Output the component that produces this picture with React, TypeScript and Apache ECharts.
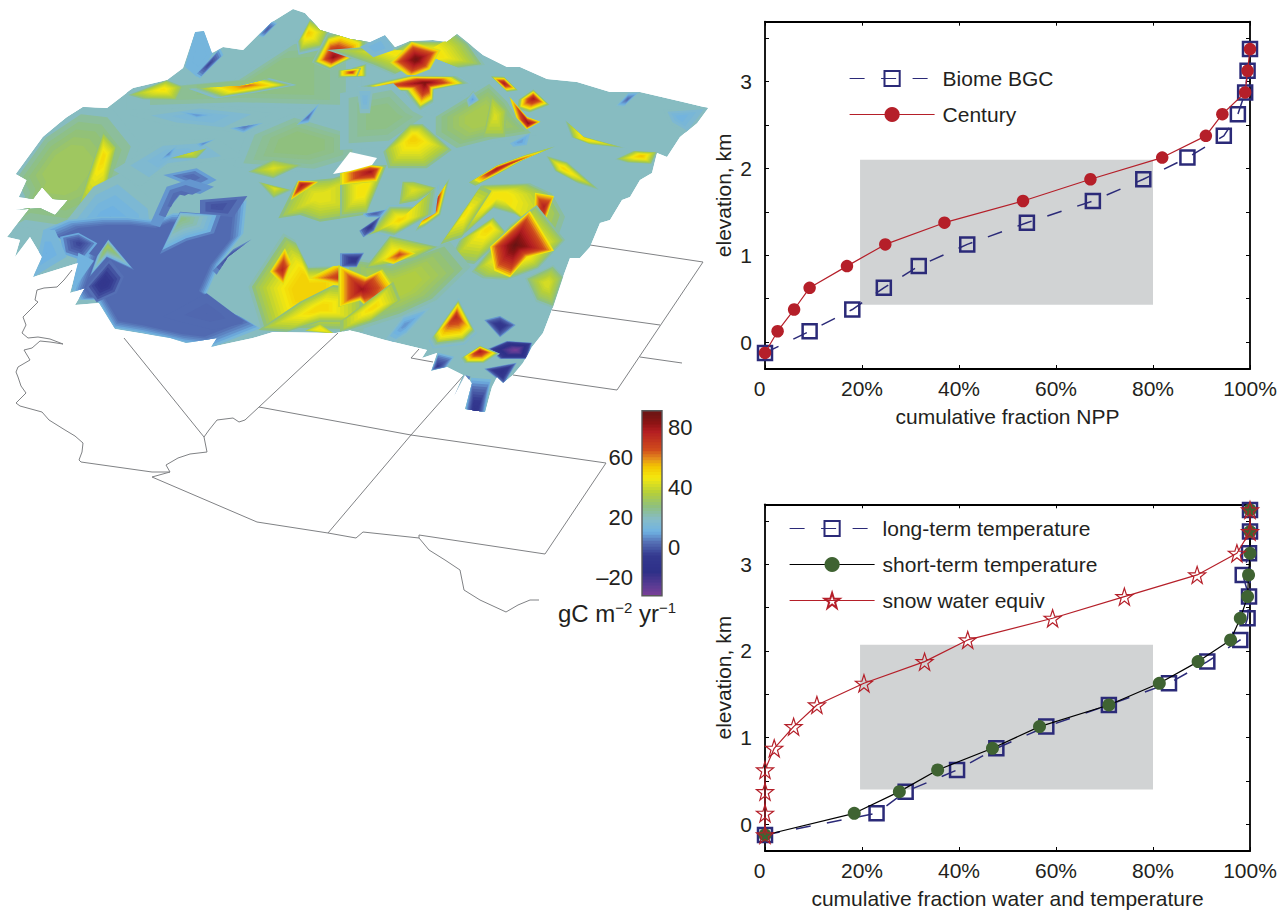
import React, { useEffect, useRef } from "react";
import * as echarts from "echarts";

// ---------- profile charts ----------
const elevations = [-0.125, 0.125, 0.375, 0.625, 0.875, 1.125, 1.375, 1.625, 1.875, 2.125, 2.375, 2.625, 2.875, 3.125, 3.375, 3.625];
const biomeBGC = [0, 9.2, 18, 24.5, 31.7, 41.7, 54, 67.6, 78, 87.1, 94.6, 97.5, 99, 99.5, 100];
const century = [0, 2.6, 6, 9.2, 16.9, 24.8, 37, 53.2, 67.1, 81.9, 90.9, 94.3, 99, 99.5, 100];
const longTermTemp = [0, 23, 29, 39.6, 47.7, 58, 70.9, 83.3, 91.2, 98, 99.5, 99.8, 98.5, 99.8, 100, 100];
const shortTermTemp = [0, 18.4, 27.7, 35.6, 46.9, 56.6, 70.9, 81.3, 89.3, 96, 98, 99.5, 99.7, 100, 100, 100];
const snowWater = [0, 0, 0, 0, 1.9, 5.9, 10.7, 20.4, 32.9, 41.8, 59.3, 74.1, 89.1, 97.3, 100, 100];
const yTicks = [0, 0.5, 1, 1.5, 2, 2.5, 3, 3.5];
const yLabels = [0, 1, 2, 3];
const topBand = [[19.6, 2.1], [80, 0.43]];
const bottomBand = [[19.6, 2.07], [80, 0.4]];

// ---------- colour scale ----------
const colorValues = [-32, -26, -16, -5, 4, 11, 19, 28, 37, 47, 55, 60, 66, 78, 84, 92];
const colorStops = ["#7b3f98", "#5f3c94", "#2e3088", "#34398f", "#5570b5", "#6fb2e2", "#86bcc9", "#8fc07e", "#b4cf3a", "#f4e80f", "#f3c400", "#e48e1c", "#d04c1c", "#b41e22", "#8c1414", "#661414"];
const colorbarLevels = [-32, -30, -28, -26, -24, -22, -20, -18, -16, -14, -12, -10, -8, -6, -4, -2, 0, 2, 4, 6, 8, 10, 12, 14, 16, 18, 20, 22, 24, 26, 28, 30, 32, 34, 36, 38, 40, 42, 44, 46, 48, 50, 52, 54, 56, 58, 60, 62, 64, 66, 68, 70, 72, 74, 76, 78, 80, 82, 84, 86, 88, 90];

// ---------- state lines under the surface ----------
const coastline = [[72, 270], [64, 280], [57, 287], [44, 288], [37, 290], [35, 300], [38, 302], [30, 310], [23, 317], [26, 325], [22, 333], [28, 338], [38, 337], [50, 339], [63, 344], [50, 342], [40, 341], [32, 348], [24, 350], [30, 360], [18, 367], [16, 372], [18, 377], [21, 386], [26, 393], [16, 403], [20, 406], [42, 412], [49, 420], [65, 430], [75, 436], [83, 443], [82, 452], [79, 460], [81, 462], [152, 472], [170, 472], [166, 465], [178, 458], [190, 454], [207, 452], [204, 437], [209, 430], [217, 420], [233, 418], [239, 422], [245, 420], [259, 407], [338, 333]];
const nevadaLine = [[124, 338], [204, 437]];
const borderSouth = [[170, 472], [152, 477], [257, 522], [328, 533], [356, 538], [363, 532], [419, 538], [419, 535], [545, 554], [606, 463], [411, 435], [259, 407]];
const cornersLine = [[464, 375], [411, 435], [328, 533]];
const rioGrande = [[419, 538], [429, 550], [445, 560], [460, 570], [464, 590], [480, 600], [506, 612], [518, 605], [530, 600], [539, 600]];
const coloradoFrame = [[590, 245], [703, 262], [617, 390], [513, 375]];
const kansasLine = [[552, 310], [660, 325]];
const northLine = [[640, 357], [682, 363]];
const stepLine = [[419, 349], [411, 358], [433, 362]];
const gridLines = [coastline, nevadaLine, borderSouth, cornersLine, rioGrande, coloradoFrame, kansasLine, northLine, stepLine];

// ---------- NPP surface: outline and value patches [from, to, polygon, centre x, centre y, stop] ----------
const surfaceOutline = [16, 174, 43, 137, 67, 117, 83, 107, 107, 108, 133, 88, 167, 80, 183, 68, 195, 32, 204, 31, 212, 53, 223, 47, 243, 50, 260, 33, 272, 22, 293, 9, 305, 13, 320, 30, 337, 35, 350, 39, 370, 42, 385, 35, 395, 47, 410, 41, 433, 40, 447, 42, 457, 34, 467, 42, 483, 55, 507, 67, 520, 67, 547, 79, 577, 82, 610, 92, 640, 92, 683, 102, 708, 108, 697, 123, 680, 137, 667, 157, 657, 153, 652, 173, 640, 180, 630, 197, 622, 200, 610, 220, 600, 223, 590, 247, 580, 258, 570, 258, 563, 277, 553, 307, 543, 333, 532, 347, 523, 363, 513, 375, 503, 383, 497, 377, 492, 387, 485, 412, 465, 409, 472, 383, 465, 375, 454, 396, 463, 375, 447, 367, 431, 371, 437, 353, 422, 358, 427, 350, 385, 340, 350, 330, 336, 333, 273, 332, 253, 338, 211, 347, 217, 338, 186, 343, 170, 338, 115, 329, 99, 303, 75, 305, 85, 288, 70, 293, 78, 263, 33, 277, 42, 257, 30, 237, 15, 257, 20, 240, 7, 237, 30, 208, 15, 210, 40, 208, 55, 215, 68, 200, 53, 199, 42, 187, 33, 199, 19, 197, 27, 180];
const surfaceHole = [333, 174, 350, 152, 377, 158, 372, 165, 350, 171];

type Patch = any[];
const westBack: Patch[] = [
  [20, 32, [30, 540, 130, 400, 250, 320, 340, 330, 420, 430, 380, 540, 290, 660, 200, 700, 60, 680, 20, 700, 60, 600], 190, 510, 0.4],
  [20, 27, [380, 270, 700, 240, 900, 110, 1085, 100, 1085, 330, 700, 320, 380, 330], 800, 240, 0.5],
  [20, 28, [880, 340, 1085, 400, 1085, 480, 950, 520, 700, 500, 740, 400], 900, 430, 0.4],
  [20, 15, [340, 510, 480, 425, 650, 415, 730, 470, 500, 500, 420, 560], 510, 465, 0.4],
  [20, 15, [390, 345, 600, 315, 820, 340, 700, 395, 500, 375], 600, 350, 0.4],
  [13, 13, [585, 95, 612, 92, 640, 160, 590, 230, 555, 200], 600, 170],
  [13, -4, [585, 225, 660, 145, 670, 165, 600, 235], 628, 192],
  [26, 50, [385, 285, 500, 240, 550, 260, 530, 300, 430, 298], 490, 268],
  [26, 64, [590, 265, 700, 262, 800, 238, 870, 255, 760, 275, 660, 290], 745, 256],
  [26, 54, [895, 125, 930, 60, 985, 95, 965, 140, 900, 155], 925, 98],
  [30, 84, [945, 185, 985, 110, 1030, 98, 1090, 122, 1090, 155, 990, 205], 1000, 172],
  [30, 64, [1015, 232, 1060, 205, 1095, 195, 1095, 228], 1062, 220],
  [14, 0, [775, 108, 815, 62, 832, 70, 790, 112], 802, 88],
  [16, 3, [890, 375, 960, 308, 925, 368], 925, 350],
  [14, 4, [690, 385, 790, 368, 730, 398], 735, 380],
  [14, 6, [480, 482, 530, 438, 512, 472], 505, 460],
  [14, 6, [590, 432, 645, 418, 600, 442], 612, 430],
  [14, 7, [540, 335, 640, 345, 590, 355], 590, 345],
  [28, 42, [510, 475, 620, 445, 590, 475], 570, 460],
  [26, 44, [745, 515, 820, 478, 905, 495, 820, 535], 820, 505],
  [28, 50, [310, 395, 350, 440, 310, 600, 250, 645, 235, 620, 280, 480], 310, 470, 0.15],
];
const eastBack: Patch[] = [
  [22, 48, [-70, 150, 60, 140, 130, 150, 180, 122, 290, 125, 322, 100, 360, 130, 405, 195, 330, 205, 250, 170, 130, 225, 60, 195], 220, 160, 0.35],
  [16, 12, [30, 140, 105, 106, 132, 150, 70, 172], 80, 140],
  [34, 70, [-30, 212, 30, 205, 20, 228, -30, 228], 5, 217],
  [42, 90, [120, 188, 185, 125, 272, 150, 240, 208, 180, 232], 198, 178],
  [28, 88, [50, 258, 180, 228, 312, 230, 345, 250, 250, 268, 248, 302, 210, 325, 170, 272, 70, 268], 225, 248],
  [20, 27, [-30, 280, 130, 250, 210, 330, 250, 350, 120, 440, -30, 450], 100, 350, 0.4],
  [20, 13, [20, 260, 70, 260, 60, 340, 30, 340], 45, 300],
  [20, 34, [240, 350, 420, 240, 480, 300, 510, 350, 560, 405, 500, 415, 430, 425, 310, 455, 240, 410], 400, 350, 0.35],
  [30, 44, [425, 285, 470, 330, 465, 410, 400, 410], 435, 350],
  [24, 8, [370, 272, 388, 300, 355, 322, 348, 300], 368, 298],
  [36, 80, [428, 232, 462, 233, 498, 268, 470, 272], 462, 250],
  [34, 80, [512, 298, 550, 272, 592, 312, 540, 332, 508, 322], 550, 296],
  [40, 84, [478, 290, 530, 350, 572, 365, 530, 388, 498, 352], 535, 370],
  [18, 2, [798, 318, 835, 278, 868, 276, 822, 320], 833, 298],
  [20, 11, [940, 330, 1085, 320, 1020, 405, 960, 372], 990, 352],
  [14, 8, [480, 430, 540, 400, 530, 435, 490, 440], 510, 425],
  [28, 52, [650, 365, 700, 410, 815, 442, 720, 432, 668, 412], 705, 417],
  [22, 56, [795, 478, 850, 452, 922, 456, 905, 492, 830, 488], 875, 468],
  [26, 52, [100, 455, 180, 372, 218, 372, 305, 450, 230, 505, 115, 505], 190, 415, 0.12],
  [30, 52, [595, 472, 650, 488, 735, 562, 680, 545, 618, 512], 640, 505],
];
const westMid: Patch[] = [
  [20, 8, [170, 700, 280, 560, 360, 520, 470, 610, 480, 690, 300, 720], 320, 700, 0.1],
  [14, 3, [130, 690, 200, 660, 300, 650, 380, 650, 470, 660, 520, 640, 650, 640, 740, 600, 730, 700, 660, 790, 620, 880, 700, 940, 740, 960, 780, 985, 640, 1040, 560, 1030, 430, 1000, 340, 985, 290, 900, 240, 900, 220, 870, 260, 760], 450, 830, 0.86],
  [9, 2, [490, 525, 590, 505, 650, 540, 600, 565, 540, 545], 575, 530],
  [8, 2, [450, 672, 500, 560, 570, 538, 642, 560, 600, 582, 550, 572, 510, 622, 480, 682], 530, 590],
  [4, -2, [600, 600, 742, 588, 700, 652, 600, 642], 650, 620],
  [10, -4, [180, 710, 235, 698, 292, 730, 250, 782, 190, 762], 238, 730],
  [4, -9, [258, 862, 330, 778, 372, 830, 350, 880, 290, 907], 310, 850],
  [6, -2, [638, 812, 700, 748, 755, 718, 682, 772, 650, 824], 685, 770],
  [3, 2.4, [490, 950, 620, 880, 700, 940, 730, 970, 640, 990, 540, 965], 620, 940],
  [6, 28, [540, 635, 662, 645, 642, 700, 560, 722, 480, 762], 545, 655],
  [6, 34, [325, 718, 402, 810, 320, 772, 268, 832, 290, 770], 323, 738],
  [12, 12, [235, 758, 282, 782, 215, 877], 245, 790],
  [14, 10, [100, 832, 130, 690, 165, 690, 200, 770, 150, 800], 140, 760],
  [28, 44, [835, 655, 890, 545, 1000, 535, 1090, 505, 1090, 645, 960, 665, 900, 645], 960, 590, 0.25],
  [44, 80, [872, 600, 895, 542, 955, 545], 905, 555],
  [24, 44, [775, 545, 875, 570, 820, 595], 825, 565],
  [22, 52, [745, 860, 850, 700, 885, 720, 925, 800, 1090, 795, 1090, 995, 860, 990, 785, 990], 930, 870, 0.3],
  [44, 76, [810, 815, 855, 745, 875, 790, 850, 855], 847, 810],
  [44, 80, [925, 835, 1000, 798, 1090, 795, 1090, 885, 1020, 855], 1065, 830],
];
const eastMid: Patch[] = [
  [26, 48, [-30, 535, 60, 495, 110, 495, 50, 640, -30, 650], 40, 570, 0.25],
  [40, 82, [-30, 520, 60, 495, 100, 500, 80, 545, -30, 555], 62, 515],
  [24, 48, [270, 735, 395, 555, 540, 550, 605, 580, 645, 650, 615, 735, 500, 645, 430, 625, 340, 705], 445, 585, 0.22],
  [30, 50, [272, 732, 392, 558, 425, 572, 335, 712], 345, 640],
  [46, 78, [555, 578, 612, 588, 582, 672, 553, 642], 582, 620],
  [38, 80, [368, 542, 440, 498, 522, 468, 592, 448, 512, 482, 440, 522, 385, 550], 440, 507],
  [30, 44, [158, 545, 190, 545, 262, 565, 200, 602, 148, 612], 190, 570],
  [32, 84, [203, 684, 292, 546, 268, 642, 226, 672], 248, 620],
  [26, 52, [55, 705, 120, 622, 190, 622, 252, 568, 242, 642, 132, 704, 90, 694], 150, 660],
  [12, 1, [38, 642, 112, 628, 92, 652, 50, 652], 75, 640],
  [7, -7, [28, 692, 92, 648, 72, 692, 40, 712], 60, 680],
  [26, 50, [328, 722, 430, 652, 472, 702, 372, 792, 298, 782], 418, 682, 0.15],
  [24, 52, [365, 815, 480, 675, 560, 615, 645, 720, 565, 805, 470, 840, 398, 835], 510, 740, 0.35],
  [48, 92, [420, 740, 540, 632, 612, 752, 532, 772, 480, 832, 433, 812], 495, 735],
  [22, 42, [525, 835, 610, 795, 642, 830, 610, 925, 558, 905], 592, 850, 0.2],
  [22, 36, [-20, 770, 120, 790, 300, 725, 362, 800, 260, 900, 150, 950, -20, 1005], 140, 860, 0.35],
  [28, 48, [45, 805, 120, 708, 262, 740, 200, 772, 120, 792], 130, 760, 0.2],
  [44, 68, [98, 782, 150, 742, 197, 760, 130, 792], 148, 764],
  [8, -9, [-30, 760, 42, 758, 20, 802, -30, 802], 15, 780],
];
const westFront: Patch[] = [
  [28, 50, [775, 990, 900, 905, 1000, 855, 1090, 865, 1090, 965, 960, 965, 860, 995], 960, 925, 0.2],
  [36, 50, [915, 992, 960, 972, 1005, 1002], 960, 988],
];
const eastFront: Patch[] = [
  [40, 82, [-35, 795, 50, 830, 97, 808, 132, 860, 110, 902, 50, 922, 30, 902, -35, 922], 35, 868],
  [30, 50, [-30, 965, 130, 845, 152, 900, 60, 965, -30, 995], 70, 922, 0.15],
  [18, 7, [108, 1016, 160, 948, 242, 922, 170, 1002, 130, 1027], 165, 975],
  [26, 76, [248, 1012, 325, 902, 372, 992, 340, 1022, 258, 1032], 318, 950],
  [8, -10, [403, 960, 450, 948, 497, 975, 450, 1012], 450, 977],
  [8, -32, [413, 1047, 470, 1023, 547, 1028, 532, 1077, 450, 1077], 497, 1050],
  [28, 80, [338, 1072, 390, 1038, 442, 1060, 400, 1087, 348, 1087], 390, 1054],
  [8, -14, [403, 1106, 500, 1088, 462, 1152, 430, 1127], 455, 1115],
  [14, -6, [243, 1112, 265, 1058, 312, 1070, 290, 1102], 262, 1100],
  [6, -6, [312, 1188, 345, 1125, 362, 1130, 340, 1172], 335, 1160],
  [20, -12, [343, 1230, 407, 1237, 427, 1130, 363, 1125], 375, 1235],
];
const patchLayers: [number, Patch[]][] = [[0, westBack], [350, eastBack], [0, westMid], [350, eastMid], [0, westFront], [350, eastFront]];

// ---------- helpers ----------
const hex = (c: string) => [1, 3, 5].map((i) => parseInt(c.slice(i, i + 2), 16));
function colorOf(v: number) {
  let i = 0;
  while (i < colorValues.length - 2 && v > colorValues[i + 1]) i++;
  const t = Math.max(0, Math.min(1, (v - colorValues[i]) / (colorValues[i + 1] - colorValues[i])));
  const a = hex(colorStops[i]);
  const b = hex(colorStops[i + 1]);
  return `rgb(${a.map((x, k) => Math.round(x + (b[k] - x) * t)).join(",")})`;
}
const pairs = (flat: number[], scale: number, off: number) => {
  const out: number[][] = [];
  for (let i = 0; i < flat.length; i += 2) out.push([flat[i] / scale + off, flat[i + 1] / scale]);
  return out;
};

const FONT = "Liberation Sans";
const INK = "#231f20";
const NAVY = "#2b2a78";
const RED = "#b51f29";
const GREEN = "#3f6332";
const SIZE = 21;
const STAR = "path://M50 0 L61.8 35.3 L98.9 35.3 L69 57.4 L79.4 92.7 L50 70.5 L20.6 92.7 L31 57.4 L1.1 35.3 L38.2 35.3 Z";

const series = (name: string, xs: number[], kind: string, xIndex: number, yIndex: number, extra: any = {}) => {
  const base: any = {
    name,
    type: "line",
    xAxisIndex: xIndex,
    yAxisIndex: yIndex,
    clip: false,
    data: xs.map((x, i) => [x, elevations[i]]),
    showSymbol: true,
    ...extra,
  };
  if (kind === "square") {
    base.symbol = "rect";
    base.symbolSize = 14;
    base.itemStyle = { color: "rgba(255,255,255,0)", borderColor: NAVY, borderWidth: 2.5 };
    base.lineStyle = { color: NAVY, width: 1.5, type: [15, 16.5] };
  } else if (kind === "circle") {
    base.symbol = "circle";
    base.symbolSize = 12.5;
    base.itemStyle = { color: RED, borderColor: RED, borderWidth: 0 };
    base.lineStyle = { color: RED, width: 1.2 };
  } else if (kind === "green") {
    base.symbol = "circle";
    base.symbolSize = 13;
    base.itemStyle = { color: GREEN, borderWidth: 0 };
    base.lineStyle = { color: "#000", width: 1.2 };
  } else {
    base.symbol = STAR;
    base.symbolSize = 17;
    base.itemStyle = { color: "rgba(255,255,255,0)", borderColor: RED, borderWidth: 1.2 };
    base.lineStyle = { color: RED, width: 1.2 };
  }
  return base;
};

const band = (coords: number[][]) => ({
  silent: true,
  itemStyle: { color: "#d1d3d4" },
  data: [[{ coord: coords[0] }, { coord: coords[1] }]],
});

const frameAxisX = (gridIndex: number, title: string | null, position: string) => ({
  type: "value",
  gridIndex,
  position,
  min: 0,
  max: 100,
  interval: 20,
  name: title ?? undefined,
  nameLocation: "middle",
  nameGap: 37,
  nameTextStyle: { fontFamily: FONT, fontSize: SIZE, color: INK, verticalAlign: "top" },
  axisLine: { show: true, onZero: false, lineStyle: { color: "#000", width: 1.8 } },
  axisTick: { show: true, inside: true, length: 4, lineStyle: { color: "#000", width: 1 } },
  axisLabel: title
    ? {
        show: true,
        margin: 9,
        fontFamily: FONT,
        fontSize: SIZE,
        color: INK,
        formatter: (v: number) => (v === 0 ? "{z|0}" : `${v}%`),
        rich: { z: { fontFamily: FONT, fontSize: SIZE, color: INK, padding: [0, 11, 0, 0] } },
      }
    : { show: false },
  splitLine: { show: false },
});
const frameAxisY = (gridIndex: number, title: string | null, position: string) => ({
  type: "value",
  gridIndex,
  position,
  min: -0.31,
  max: 3.69,
  name: title ?? undefined,
  nameLocation: "middle",
  nameGap: 31,
  nameTextStyle: { fontFamily: FONT, fontSize: SIZE, color: INK },
  axisLine: { show: true, onZero: false, lineStyle: { color: "#000", width: 1.8 } },
  axisTick: { show: true, inside: true, length: 4, customValues: yTicks, lineStyle: { color: "#000", width: 1 } },
  axisLabel: title
    ? { show: true, margin: 13, fontFamily: FONT, fontSize: SIZE, color: INK, customValues: yLabels }
    : { show: false },
  splitLine: { show: false },
});
const legendOf = (names: string[], left: number, top: number) => ({
  show: true,
  orient: "vertical",
  left,
  top,
  padding: 0,
  data: names,
  itemWidth: 85,
  itemHeight: 19,
  itemGap: 15,
  lineStyle: { width: 1.2 },
  textStyle: { fontFamily: FONT, fontSize: SIZE, color: INK, padding: [0, 0, 0, 3] },
});

function renderSurface(_params: any, api: any) {
  const toPts = (flat: number[], scale: number, off: number) => pairs(flat, scale, off).map((p) => api.coord(p));
  const outline = toPts(surfaceOutline, 1, 0);
  const children: any[] = [{ type: "polygon", shape: { points: outline }, style: { fill: colorOf(20) } }];
  const ring = (pts: number[][], c: number[], s: number, v: number) =>
    children.push({
      type: "polygon",
      shape: { points: pts.map((q) => [c[0] + (q[0] - c[0]) * s, c[1] + (q[1] - c[1]) * s]) },
      style: { fill: colorOf(v) },
    });
  patchLayers.forEach(([off, list]) => {
    list.forEach((p: any[]) => {
      const [from, to, flat, cx, cy, stop] = p;
      const pts = toPts(flat, 3, off);
      const c = api.coord([cx / 3 + off, cy / 3]);
      if (stop === undefined && from >= 24 && from <= 38 && to > 50) {
        ring(pts, c, 1.16, from - 9);
        ring(pts, c, 1.11, from - 6);
        ring(pts, c, 1.05, from - 3);
      }
      const end = stop ?? 0.02;
      const steps = Math.max(2, Math.min(16, Math.ceil(Math.abs(to - from) / 2.5)));
      for (let i = 0; i <= steps; i++) {
        const t = i / steps;
        ring(pts, c, 1 - t * (1 - end), from + (to - from) * Math.pow(t, 0.6));
      }
    });
  });
  children.push({ type: "polygon", shape: { points: toPts(surfaceHole, 1, 0) }, style: { fill: "#fff" } });
  return { type: "group", clipPath: { type: "polygon", shape: { points: outline } }, children };
}

function renderColorbar(_params: any, api: any) {
  const v = api.value(0);
  const a = api.coord([0, v + 1.6]);
  const b = api.coord([1, v - 1.6]);
  return { type: "rect", shape: { x: a[0], y: a[1], width: b[0] - a[0], height: b[1] - a[1] }, style: { fill: colorOf(v) } };
}
function renderColorbarFrame(_params: any, api: any) {
  const a = api.coord([0, 91.6]);
  const b = api.coord([1, -32.5]);
  return { type: "rect", shape: { x: a[0], y: a[1], width: b[0] - a[0], height: b[1] - a[1] }, style: { fill: "none", stroke: "#58595b", lineWidth: 1.4 } };
}

export default function App() {
  const ref = useRef<HTMLDivElement>(null);
  useEffect(() => {
    document.body.style.margin = "0";
    const chart = echarts.init(ref.current!, undefined, { renderer: "svg" });
    const mapLineSeries = gridLines.map((line) => ({
      type: "line",
      xAxisIndex: 4,
      yAxisIndex: 4,
      data: line,
      showSymbol: false,
      silent: true,
      z: 1,
      lineStyle: { color: "#808285", width: 1 },
    }));
    const barLabel = { fontFamily: FONT, fontSize: 22, color: INK };
    chart.setOption({
      animation: false,
      backgroundColor: "#fff",
      grid: [
        { left: 765, top: 21.7, width: 485, height: 347.3 },
        { left: 765, top: 504.3, width: 485, height: 346.7 },
        { left: 0, top: 0, width: 1286, height: 911 },
        { left: 642, top: 410.7, width: 20, height: 185 },
      ],
      xAxis: [
        frameAxisX(0, "cumulative fraction NPP", "bottom"),
        frameAxisX(0, null, "top"),
        frameAxisX(1, "cumulative fraction water and temperature", "bottom"),
        frameAxisX(1, null, "top"),
        { type: "value", gridIndex: 2, min: 0, max: 1286, show: false },
        { type: "value", gridIndex: 3, min: 0, max: 1, show: false },
      ],
      yAxis: [
        frameAxisY(0, "elevation, km", "left"),
        frameAxisY(0, null, "right"),
        frameAxisY(1, "elevation, km", "left"),
        frameAxisY(1, null, "right"),
        { type: "value", gridIndex: 2, min: 0, max: 911, inverse: true, show: false },
        {
          type: "value", gridIndex: 3, min: -32.5, max: 91.6, position: "left",
          axisLine: { show: false },
          axisTick: { show: true, inside: true, length: 2, customValues: [-20, 0, 20, 40, 60, 80], lineStyle: { color: "#333" } },
          axisLabel: {
            margin: 9, ...barLabel, customValues: [-20, 20, 60],
            formatter: (v: number) => (v < 0 ? `–${-v}` : `${v}`),
          },
          splitLine: { show: false },
        },
        {
          type: "value", gridIndex: 3, min: -32.5, max: 91.6, position: "right",
          axisLine: { show: false },
          axisTick: { show: true, inside: true, length: 2, customValues: [-20, 0, 20, 40, 60, 80], lineStyle: { color: "#333" } },
          axisLabel: { margin: 6, ...barLabel, customValues: [0, 40, 80] },
          splitLine: { show: false },
        },
      ],
      legend: [
        legendOf(["Biome BGC", "Century"], 849, 68),
        legendOf(["long-term temperature", "short-term temperature", "snow water equiv"], 789, 518),
      ],
      graphic: [
        {
          type: "text",
          left: 558,
          top: 600,
          style: {
            text: "{a|gC m}{s|−2}{a| yr}{s|−1}",
            rich: {
              a: { fontFamily: FONT, fontSize: 24, fill: INK, lineHeight: 27 },
              s: { fontFamily: FONT, fontSize: 15, fill: INK, verticalAlign: "top", lineHeight: 27, padding: [0, 0, 8, 0] },
            },
          },
        },
      ],
      series: [
        ...mapLineSeries,
        { type: "custom", xAxisIndex: 4, yAxisIndex: 4, data: [0], clip: false, silent: true, z: 2, renderItem: renderSurface },
        { type: "custom", xAxisIndex: 5, yAxisIndex: 5, data: colorbarLevels, clip: true, silent: true, z: 1, encode: { y: 0 }, renderItem: renderColorbar },
        { type: "custom", xAxisIndex: 5, yAxisIndex: 5, data: [0], clip: false, silent: true, z: 2, renderItem: renderColorbarFrame },
        series("Biome BGC", biomeBGC, "square", 0, 0, { z: 3, markArea: band(topBand) }),
        series("Century", century, "circle", 0, 0, { z: 4 }),
        series("long-term temperature", longTermTemp, "square", 2, 2, { z: 3, markArea: band(bottomBand) }),
        series("short-term temperature", shortTermTemp, "green", 2, 2, { z: 4 }),
        series("snow water equiv", snowWater, "star", 2, 2, { z: 5 }),
      ],
    });
    return () => chart.dispose();
  }, []);
  return <div ref={ref} style={{ position: "absolute", left: 0, top: 0, width: 1286, height: 911 }} />;
}
